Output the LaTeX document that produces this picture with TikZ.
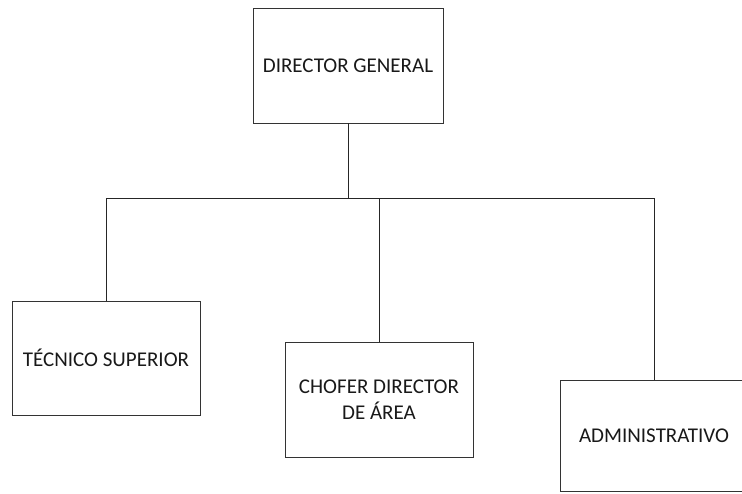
\documentclass[tikz,border=0pt]{standalone}
\usepackage{fontspec}
\setmainfont{Carlito}
\begin{document}
\begin{tikzpicture}[x=1pt,y=-1pt,
  box/.style={draw=black!80, line width=0.9pt, rectangle, inner sep=0pt,
    minimum width=188pt, minimum height=114pt, align=center,
    font=\fontsize{21}{25.5}\selectfont, text=black!90},
  conn/.style={draw=black!85, line width=0.9pt}]
\useasboundingbox (0,0) rectangle (742,493);
\clip (0,0) rectangle (742,493);
\fill[white] (0,0) rectangle (742,493);
\node[box, minimum width=190pt, minimum height=115pt] (top) at (348,65.5) {\raisebox{-3pt}{DIRECTOR GENERAL}};
\node[box] (tec) at (106,358) {TÉCNICO SUPERIOR};
\node[box, minimum height=115pt] (cho) at (379,399.5) {CHOFER DIRECTOR\\DE ÁREA};
\node[box, minimum height=111pt] (adm) at (654,435.5) {ADMINISTRATIVO};
\coordinate (j) at (348,198);
\draw[conn] (top.south) -- (j);
\draw[conn] (j) -| (tec.north);
\draw[conn] (j) -| (cho.north);
\draw[conn] (j) -| (adm.north);
\end{tikzpicture}
\end{document}
